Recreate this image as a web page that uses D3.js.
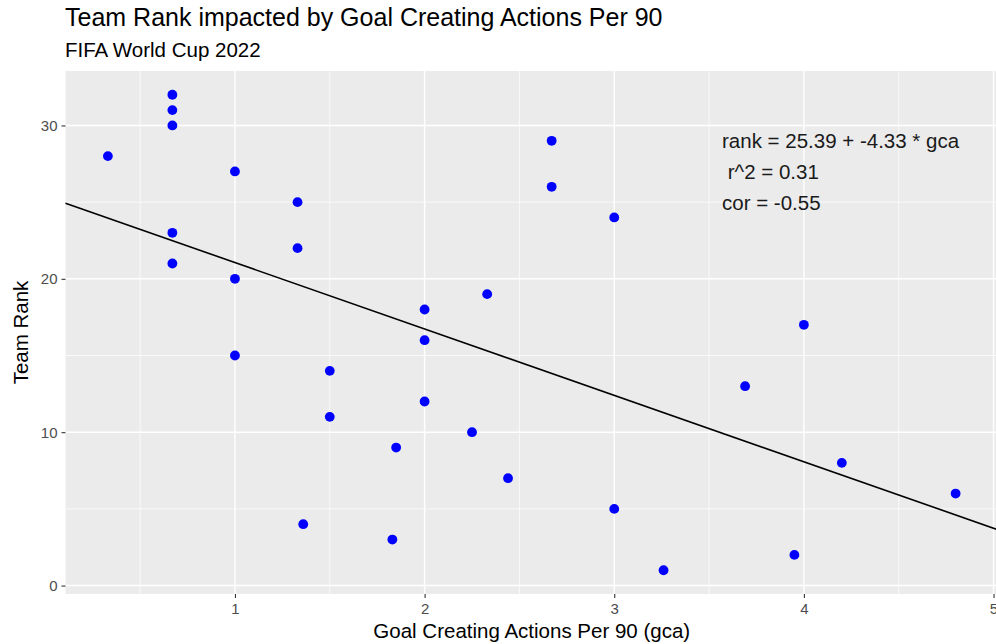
<!DOCTYPE html>
<html>
<head>
<meta charset="utf-8">
<script src="https://cdn.jsdelivr.net/npm/d3@7"></script>
<style>
  html, body { margin: 0; padding: 0; background: #ffffff; }
  svg { display: block; font-family: "Liberation Sans", Arial, Helvetica, sans-serif; }
</style>
</head>
<body>
<svg id="chart" width="996" height="644"></svg>
<script>
// Goal creating actions per 90 (gca) for each team, with its final rank
const gca  = [0.33, 0.67, 0.67, 0.67, 0.67, 0.67, 1.00, 1.00, 1.00, 1.33, 1.33,
              1.50, 1.50, 1.36, 1.83, 1.85, 2.00, 2.00, 2.00, 2.33, 2.25, 2.44,
              2.67, 2.67, 3.00, 3.00, 3.26, 3.69, 4.00, 3.95, 4.20, 4.80];
const rank = [28, 32, 31, 30, 23, 21, 27, 20, 15, 25, 22,
              14, 11, 4, 3, 9, 18, 16, 12, 19, 10, 7,
              29, 26, 24, 5, 1, 13, 17, 2, 8, 6];

// Fitted linear model, as reported in the annotation
const intercept = 25.39;
const slope = -4.33;
const statLines = ["rank = 25.39 + -4.33 * gca", " r^2 = 0.31", "cor = -0.55"];

const xTicks = [1, 2, 3, 4, 5];
const yTicks = [0, 10, 20, 30];
const xMinor = [0.5, 1.5, 2.5, 3.5, 4.5];
const yMinor = [5, 15, 25];

const titleText = "Team Rank impacted by Goal Creating Actions Per 90";
const subtitleText = "FIFA World Cup 2022";
const xTitle = "Goal Creating Actions Per 90 (gca)";
const yTitle = "Team Rank";

const svg = d3.select("#chart");
const panel = { left: 65.5, right: 998, top: 71, bottom: 594 };

// ggplot-style 5% expansion of the data range
function expand(ext) {
  const pad = (ext[1] - ext[0]) * 0.05;
  return [ext[0] - pad, ext[1] + pad];
}
const xDom = expand(d3.extent(gca));
const yDom = expand(d3.extent(rank));

const x = d3.scaleLinear().domain(xDom).range([panel.left, panel.right]);
const y = d3.scaleLinear().domain(yDom).range([panel.bottom, panel.top]);

// panel background
svg.append("rect")
  .attr("x", panel.left).attr("y", panel.top)
  .attr("width", panel.right - panel.left).attr("height", panel.bottom - panel.top)
  .attr("fill", "#EBEBEB");

const grid = svg.append("g");
// minor grid
grid.selectAll(".xminor").data(xMinor).join("line")
  .attr("x1", d => x(d)).attr("x2", d => x(d))
  .attr("y1", panel.top).attr("y2", panel.bottom)
  .attr("stroke", "#ffffff").attr("stroke-width", 0.7);
grid.selectAll(".yminor").data(yMinor).join("line")
  .attr("y1", d => y(d)).attr("y2", d => y(d))
  .attr("x1", panel.left).attr("x2", panel.right)
  .attr("stroke", "#ffffff").attr("stroke-width", 0.7);
// major grid
grid.selectAll(".xmajor").data(xTicks).join("line")
  .attr("x1", d => x(d)).attr("x2", d => x(d))
  .attr("y1", panel.top).attr("y2", panel.bottom)
  .attr("stroke", "#ffffff").attr("stroke-width", 1.4);
grid.selectAll(".ymajor").data(yTicks).join("line")
  .attr("y1", d => y(d)).attr("y2", d => y(d))
  .attr("x1", panel.left).attr("x2", panel.right)
  .attr("stroke", "#ffffff").attr("stroke-width", 1.4);

// axes
const xAxis = svg.append("g")
  .attr("transform", `translate(0,${panel.bottom})`)
  .call(d3.axisBottom(x).tickValues(xTicks).tickSize(4).tickPadding(5).tickFormat(d3.format("d")));
const yAxis = svg.append("g")
  .attr("transform", `translate(${panel.left},0)`)
  .call(d3.axisLeft(y).tickValues(yTicks).tickSize(4).tickPadding(4).tickFormat(d3.format("d")));
[xAxis, yAxis].forEach(a => {
  a.select(".domain").remove();
  a.selectAll(".tick line").attr("stroke", "#333333").attr("stroke-width", 1.1);
  a.selectAll(".tick text").attr("fill", "#4D4D4D").attr("font-size", 15)
    .attr("font-family", "Liberation Sans, Arial, sans-serif");
});

// regression line across the panel
const lineData = xDom.map(v => ({ gx: v, r: intercept + slope * v }));
svg.append("path")
  .datum(lineData)
  .attr("d", d3.line().x(d => x(d.gx)).y(d => y(d.r)))
  .attr("fill", "none").attr("stroke", "#000000").attr("stroke-width", 1.6);

// team points
svg.append("g").selectAll("circle")
  .data(gca.map((g, i) => ({ g, r: rank[i] })))
  .join("circle")
  .attr("cx", d => x(d.g)).attr("cy", d => y(d.r))
  .attr("r", 4.9).attr("fill", "#0000FF");

// model annotation
svg.append("g").selectAll("text")
  .data(statLines).join("text")
  .attr("x", 722).attr("y", (d, i) => 148 + i * 31)
  .attr("font-size", 20.5).attr("fill", "#1a1a1a")
  .attr("xml:space", "preserve")
  .style("white-space", "pre")
  .text(d => d);

// titles
svg.append("text").attr("x", 65).attr("y", 26)
  .attr("font-size", 25).attr("fill", "#000000").text(titleText);
svg.append("text").attr("x", 65).attr("y", 57)
  .attr("font-size", 20.5).attr("fill", "#000000").text(subtitleText);
svg.append("text")
  .attr("x", (panel.left + panel.right) / 2).attr("y", 638)
  .attr("text-anchor", "middle").attr("font-size", 20.5).attr("fill", "#000000")
  .text(xTitle);
svg.append("text")
  .attr("transform", `translate(28,${(panel.top + panel.bottom) / 2}) rotate(-90)`)
  .attr("text-anchor", "middle").attr("font-size", 20.5).attr("fill", "#000000")
  .text(yTitle);
</script>
</body>
</html>
